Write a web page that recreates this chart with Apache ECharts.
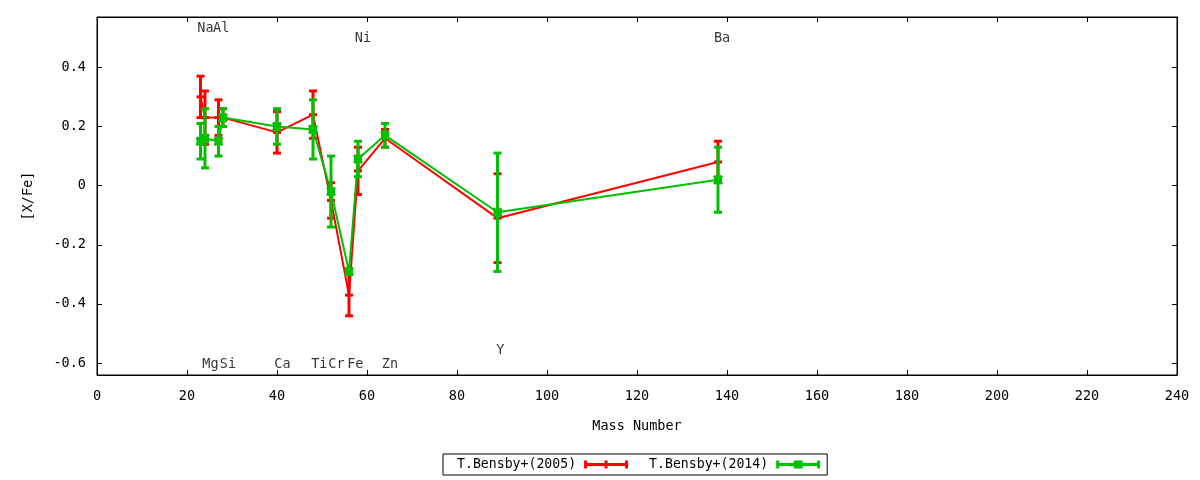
<!DOCTYPE html>
<html>
<head>
<meta charset="utf-8">
<script src="https://cdn.jsdelivr.net/npm/echarts@6/dist/echarts.min.js"></script>
<style>
html,body{margin:0;padding:0;background:#fff;}
#chart{width:1200px;height:480px;}
</style>
</head>
<body>
<div id="chart"></div>
<script>
// ---- data ----
const elements = ['Na','Mg','Al','Si','Ca','Ti','Cr','Fe','Ni','Zn','Y','Ba'];
const massNumber = [23, 24, 27, 28, 40, 48, 52, 56, 58, 64, 89, 138];
const bensby2005 = [0.30, 0.23, 0.23, 0.23, 0.18, 0.24, -0.05, -0.37, 0.05, 0.16, -0.11, 0.08];
const bensby2005Err = [0.07, 0.09, 0.06, 0.03, 0.07, 0.08, 0.06, 0.07, 0.08, 0.03, 0.15, 0.07];
const bensby2014 = [0.15, 0.16, 0.15, 0.23, 0.20, 0.19, -0.02, -0.29, 0.09, 0.17, -0.09, 0.02];
const bensby2014Err = [0.06, 0.10, 0.05, 0.03, 0.06, 0.10, 0.12, 0.01, 0.06, 0.04, 0.20, 0.11];
// element label anchors (data coordinates)
const labelX = [22.3, 23.4, 25.8, 27.3, 39.4, 47.6, 51.4, 55.6, 57.3, 63.3, 88.7, 137.1];
const labelY = [0.532, -0.603, 0.532, -0.603, -0.603, -0.603, -0.603, -0.603, 0.498, -0.603, -0.556, 0.498];
const yTicks = [-0.6, -0.4, -0.2, 0, 0.2, 0.4];
const seriesNames = ['T.Bensby+(2005)', 'T.Bensby+(2014)'];

const RED = '#ff0000', GREEN = '#00c000';
const FONT = 'DejaVu Sans Mono';
const FS = 13.5;

function lineData(vals){ return massNumber.map((m,i)=>[m, vals[i]]); }
function errData(vals, errs){ return massNumber.map((m,i)=>[m, vals[i], vals[i]-errs[i], vals[i]+errs[i]]); }

function makeErrRender(color, markerType){
  return function(params, api){
    const x = api.value(0), y = api.value(1), lo = api.value(2), hi = api.value(3);
    const pc = api.coord([x, y]);
    const pl = api.coord([x, lo]);
    const ph = api.coord([x, hi]);
    const cw = 4;
    const st = {stroke: color, lineWidth: 3, fill: null};
    const children = [
      {type:'line', shape:{x1:pl[0], y1:pl[1], x2:ph[0], y2:ph[1]}, style:st},
      {type:'line', shape:{x1:pl[0]-cw, y1:pl[1], x2:pl[0]+cw, y2:pl[1]}, style:st},
      {type:'line', shape:{x1:ph[0]-cw, y1:ph[1], x2:ph[0]+cw, y2:ph[1]}, style:st}
    ];
    if (markerType === 'plus') {
      children.push({type:'line', shape:{x1:pc[0]-cw, y1:pc[1], x2:pc[0]+cw, y2:pc[1]}, style:st});
    } else {
      children.push({type:'line', shape:{x1:pc[0]-4, y1:pc[1]-4, x2:pc[0]+4, y2:pc[1]+4}, style:st});
      children.push({type:'line', shape:{x1:pc[0]-4, y1:pc[1]+4, x2:pc[0]+4, y2:pc[1]-4}, style:st});
      children.push({type:'rect', shape:{x:pc[0]-4, y:pc[1]-3, width:8, height:6}, style:{fill:color}});
    }
    return {type:'group', children};
  };
}

const redIcon = 'path://M0,0H3V2.5H20.5V0H23.5V2.5H41V0H44V8H41V5.5H23.5V8H20.5V5.5H3V8H0Z';
const greenIcon = 'path://M0,0H3V2.5H17.5V0H26.5V2.5H41V0H44V8H41V5.5H26.5V8H17.5V5.5H3V8H0Z';

const chart = echarts.init(document.getElementById('chart'));
const axisTextStyle = {color:'#000', fontFamily: FONT, fontSize: FS};
const option = {
  animation: false,
  backgroundColor: '#fff',
  textStyle: {fontFamily: FONT},
  grid: {left: 97, right: 23, top: 17, bottom: 105, show: true, borderColor: '#000', borderWidth: 1},
  legend: {
    left: 443, top: 454,
    data: [{name: seriesNames[0], icon: redIcon}, {name: seriesNames[1], icon: greenIcon}],
    align: 'right',
    itemWidth: 44, itemHeight: 8, itemGap: 21,
    borderColor: '#000', borderWidth: 1,
    padding: [4, 7, 4, 14],
    textStyle: {color:'#000', fontFamily: FONT, fontSize: 13.2, padding:[0,3,0,0]},
    selectedMode: false
  },
  xAxis: [{
    type: 'value', min: 0, max: 240, interval: 20,
    name: 'Mass Number', nameLocation: 'middle', nameGap: 44,
    nameTextStyle: axisTextStyle,
    axisLine: {show: true, onZero: false, lineStyle: {color:'#000', width: 1}},
    axisTick: {show: true, inside: true, length: 5, lineStyle: {color:'#000'}},
    axisLabel: Object.assign({margin: 14}, axisTextStyle),
    splitLine: {show: false}
  }, {
    type: 'value', min: 0, max: 240, interval: 20, position: 'top',
    axisLine: {show: true, onZero: false, lineStyle: {color:'#000', width: 1}},
    axisTick: {show: true, inside: true, length: 5, lineStyle: {color:'#000'}},
    axisLabel: {show: false}, splitLine: {show: false}
  }],
  yAxis: [{
    type: 'value', min: -0.64, max: 0.57,
    name: '[X/Fe]', nameLocation: 'middle', nameGap: 62, nameRotate: 90,
    nameTextStyle: axisTextStyle,
    axisLine: {show: true, onZero: false, lineStyle: {color:'#000', width: 1}},
    axisTick: {show: true, inside: true, length: 5, customValues: yTicks, lineStyle: {color:'#000'}},
    axisLabel: Object.assign({margin: 11, customValues: yTicks,
      formatter: v => (Math.abs(v) < 1e-9 ? '0' : v.toFixed(1))}, axisTextStyle),
    splitLine: {show: false}
  }, {
    type: 'value', min: -0.64, max: 0.57, position: 'right',
    axisLine: {show: true, onZero: false, lineStyle: {color:'#000', width: 1}},
    axisTick: {show: true, inside: true, length: 5, customValues: yTicks, lineStyle: {color:'#000'}},
    axisLabel: {show: false}, splitLine: {show: false}
  }],
  series: [
    {
      name: seriesNames[0], type: 'line', data: lineData(bensby2005),
      showSymbol: false, symbol: 'none', color: RED,
      lineStyle: {color: RED, width: 2}, z: 2
    },
    {
      name: seriesNames[0], type: 'custom', data: errData(bensby2005, bensby2005Err),
      renderItem: makeErrRender(RED, 'plus'), color: RED, z: 3,
      encode: {x: 0, y: [1, 2, 3]}
    },
    {
      name: seriesNames[1], type: 'line', data: lineData(bensby2014),
      showSymbol: false, symbol: 'none', color: GREEN,
      lineStyle: {color: GREEN, width: 2}, z: 4
    },
    {
      name: seriesNames[1], type: 'custom', data: errData(bensby2014, bensby2014Err),
      renderItem: makeErrRender(GREEN, 'cross'), color: GREEN, z: 5,
      encode: {x: 0, y: [1, 2, 3]}
    },
    {
      name: 'labels', type: 'scatter', symbolSize: 0, silent: true, z: 6,
      data: elements.map((e, i) => [labelX[i], labelY[i], e]),
      label: {
        show: true, position: [0, 0], align: 'left', verticalAlign: 'middle',
        formatter: p => p.value[2], color: '#000', fontFamily: FONT, fontSize: FS
      }
    }
  ]
};
chart.setOption(option);
</script>
</body>
</html>
